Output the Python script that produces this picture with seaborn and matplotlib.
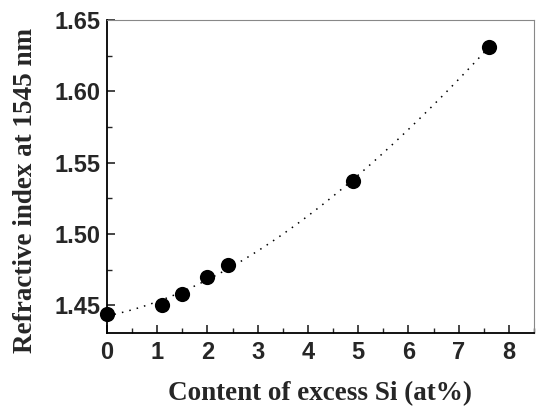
import numpy as np
import pandas as pd
import matplotlib
matplotlib.use("Agg")
import matplotlib.pyplot as plt
import seaborn as sns
from matplotlib.ticker import MultipleLocator

si_content = [0.0, 1.1, 1.5, 2.0, 2.4, 4.9, 7.6]
refr_index = [1.444, 1.450, 1.458, 1.470, 1.478, 1.537, 1.631]
x_ticks = [0, 1, 2, 3, 4, 5, 6, 7, 8]
y_ticks = [1.45, 1.50, 1.55, 1.60, 1.65]

df = pd.DataFrame({"x": si_content, "y": refr_index})

sns.set_style("ticks")
fig = plt.figure(figsize=(5.37, 4.08), dpi=100)
ax = fig.add_axes([107/537, 1-333/408, (534-107)/537, (333-20)/408])

sns.regplot(data=df, x="x", y="y", order=3, ci=None, ax=ax, scatter=False,
            line_kws=dict(color="black", linestyle=(0, (1, 4)), linewidth=1.1))
sns.scatterplot(data=df, x="x", y="y", ax=ax, color="black", s=120,
                edgecolor="black", linewidth=0, zorder=3, clip_on=False)

ax.set_xlim(0, 8.5)
ax.set_ylim(1.4305, 1.65)
ax.set_xticks(x_ticks)
ax.set_yticks(y_ticks)
ax.xaxis.set_minor_locator(MultipleLocator(0.5))
ax.yaxis.set_minor_locator(MultipleLocator(0.025))
ax.tick_params(which="both", direction="in", top=False, right=False)
ax.tick_params(which="major", length=6, width=1.2)
ax.tick_params(which="minor", length=3.5, width=1.0)
ax.set_yticklabels([f"{v:.2f}" for v in y_ticks])
for lab in ax.get_xticklabels() + ax.get_yticklabels():
    lab.set_fontfamily("Liberation Sans")
    lab.set_fontweight("bold")
    lab.set_fontsize(17)
ax.tick_params(axis="x", pad=6)
ax.tick_params(axis="y", pad=5)

for s in ["left", "bottom"]:
    ax.spines[s].set_linewidth(1.3)
    ax.spines[s].set_color("black")
for s in ["top", "right"]:
    ax.spines[s].set_linewidth(0.8)
    ax.spines[s].set_color("#888888")

ax.set_xlabel("Content of excess Si (at%)", fontfamily="Liberation Serif",
              fontweight="bold", fontsize=19.5)
ax.set_ylabel("Refractive index at 1545 nm", fontfamily="Liberation Serif",
              fontweight="bold", fontsize=19.5)
ax.xaxis.set_label_coords(0.499, -0.195)
ax.yaxis.set_label_coords(-0.192, 0.454)
ax.xaxis.label.set_va("center")
ax.yaxis.label.set_va("center")

fig.savefig("out.png", dpi=100)
